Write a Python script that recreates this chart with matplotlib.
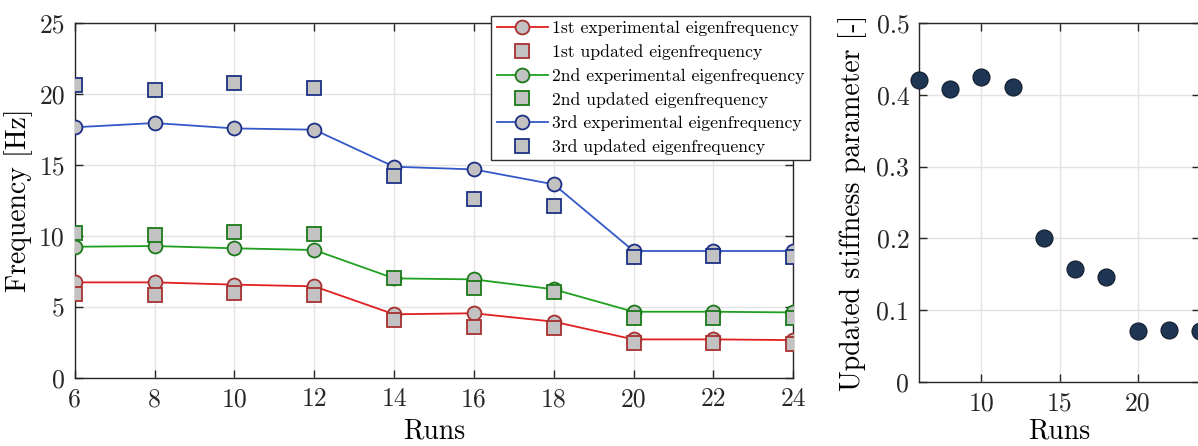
import matplotlib
matplotlib.use("Agg")
import matplotlib.pyplot as plt
from matplotlib.ticker import FuncFormatter

plt.rcParams["font.family"] = ["cmr10", "DejaVu Serif"]
plt.rcParams["mathtext.fontset"] = "cm"
plt.rcParams["axes.formatter.use_mathtext"] = True

# Measured eigenfrequencies per run
runs = [6, 8, 10, 12, 14, 16, 18, 20, 22, 24]
exp_1 = [6.72, 6.72, 6.56, 6.44, 4.47, 4.54, 3.95, 2.70, 2.70, 2.65]
upd_1 = [5.90, 5.80, 5.95, 5.85, 4.07, 3.60, 3.52, 2.42, 2.42, 2.37]
exp_2 = [9.23, 9.28, 9.12, 9.00, 7.00, 6.93, 6.23, 4.65, 4.65, 4.60]
upd_2 = [10.18, 10.06, 10.27, 10.10, 7.00, 6.30, 6.02, 4.23, 4.23, 4.19]
exp_3 = [17.65, 17.95, 17.57, 17.48, 14.87, 14.68, 13.63, 8.93, 8.93, 8.93]
upd_3 = [20.60, 20.27, 20.75, 20.40, 14.24, 12.57, 12.12, 8.53, 8.55, 8.50]

# Updated stiffness parameter per run
stiffness = [0.420, 0.408, 0.425, 0.411, 0.200, 0.157, 0.146, 0.071, 0.0724, 0.071]

freq_ticks = [0, 5, 10, 15, 20, 25]
run_ticks = [6, 8, 10, 12, 14, 16, 18, 20, 22, 24]
stiff_ticks = [0, 0.1, 0.2, 0.3, 0.4, 0.5]
stiff_run_ticks = [10, 15, 20]

W, H = 1198, 446
fig = plt.figure(figsize=(W / 100, H / 100), dpi=100)


def px_axes(left, top, right, bottom):
    return fig.add_axes([left / W, 1 - bottom / H, (right - left) / W, (bottom - top) / H])


ax1 = px_axes(74.7, 23, 793.3, 377.7)
ax2 = px_axes(919, 23, 1200, 382)

spine_col = "#262626"
grid_col = "#e3e3e3"
face = "#c2c2c2"
fs_tick = 18.5
fs_label = 20

series = [
    (exp_1, upd_1, "#e02020", "#a83030", "1st"),
    (exp_2, upd_2, "#1fa01f", "#1a7a1a", "2nd"),
    (exp_3, upd_3, "#3358c8", "#1c2f85", "3rd"),
]
for exp, upd, lc, ec, name in series:
    ax1.plot(runs, exp, "-", color=lc, lw=1.3, marker="o", ms=10,
             mfc=face, mec=ec, mew=1.3,
             label=f"{name} experimental eigenfrequency", zorder=3)
    ax1.plot(runs, upd, linestyle="none", marker="s", ms=10,
             mfc=face, mec=ec, mew=1.3,
             label=f"{name} updated eigenfrequency", zorder=4)

ax1.set_xlim(6, 24)
ax1.set_ylim(0, 25)
ax1.set_xticks(run_ticks)
ax1.set_yticks(freq_ticks)
ax1.set_xlabel("Runs", fontsize=fs_label, labelpad=5)
ax1.set_ylabel("Frequency [Hz]", fontsize=fs_label)
ax1.yaxis.set_label_coords(-0.058, 0.5)

ax2.scatter(runs, stiffness, s=150, color="#1e3654", edgecolors="#101c2c",
            linewidths=0.8, zorder=3, clip_on=False)
ax2.set_xlim(6, 24)
ax2.set_ylim(0, 0.5)
ax2.set_xticks(stiff_run_ticks)
ax2.set_yticks(stiff_ticks)
ax2.set_xlabel("Runs", fontsize=fs_label, labelpad=2)
ax2.set_ylabel("Updated stiffness parameter [-]", fontsize=fs_label)
ax2.yaxis.set_label_coords(-0.185, 0.5)

for ax in (ax1, ax2):
    ax.xaxis.set_major_formatter(FuncFormatter(lambda v, p: f"{v:g}"))
    ax.yaxis.set_major_formatter(FuncFormatter(lambda v, p: f"{v:g}"))
    ax.grid(True, color=grid_col, lw=1.0)
    ax.set_axisbelow(True)
    for s in ax.spines.values():
        s.set_color(spine_col)
        s.set_linewidth(1.0)
    ax.tick_params(direction="in", length=6, width=1.0, colors=spine_col,
                   labelcolor="#262626", labelsize=fs_tick, pad=7,
                   top=True, right=True)

leg = ax1.legend(loc="upper right", bbox_to_anchor=(810 / W, 1 - 15.7 / H),
                 bbox_transform=fig.transFigure, fontsize=12.7, frameon=True,
                 fancybox=False, framealpha=1, edgecolor="#303030",
                 handlelength=2.9, handletextpad=0.25, labelspacing=0.45,
                 borderpad=0.3, borderaxespad=0, numpoints=1)
leg.get_frame().set_linewidth(1.0)

fig.savefig("out.png", dpi=100)
